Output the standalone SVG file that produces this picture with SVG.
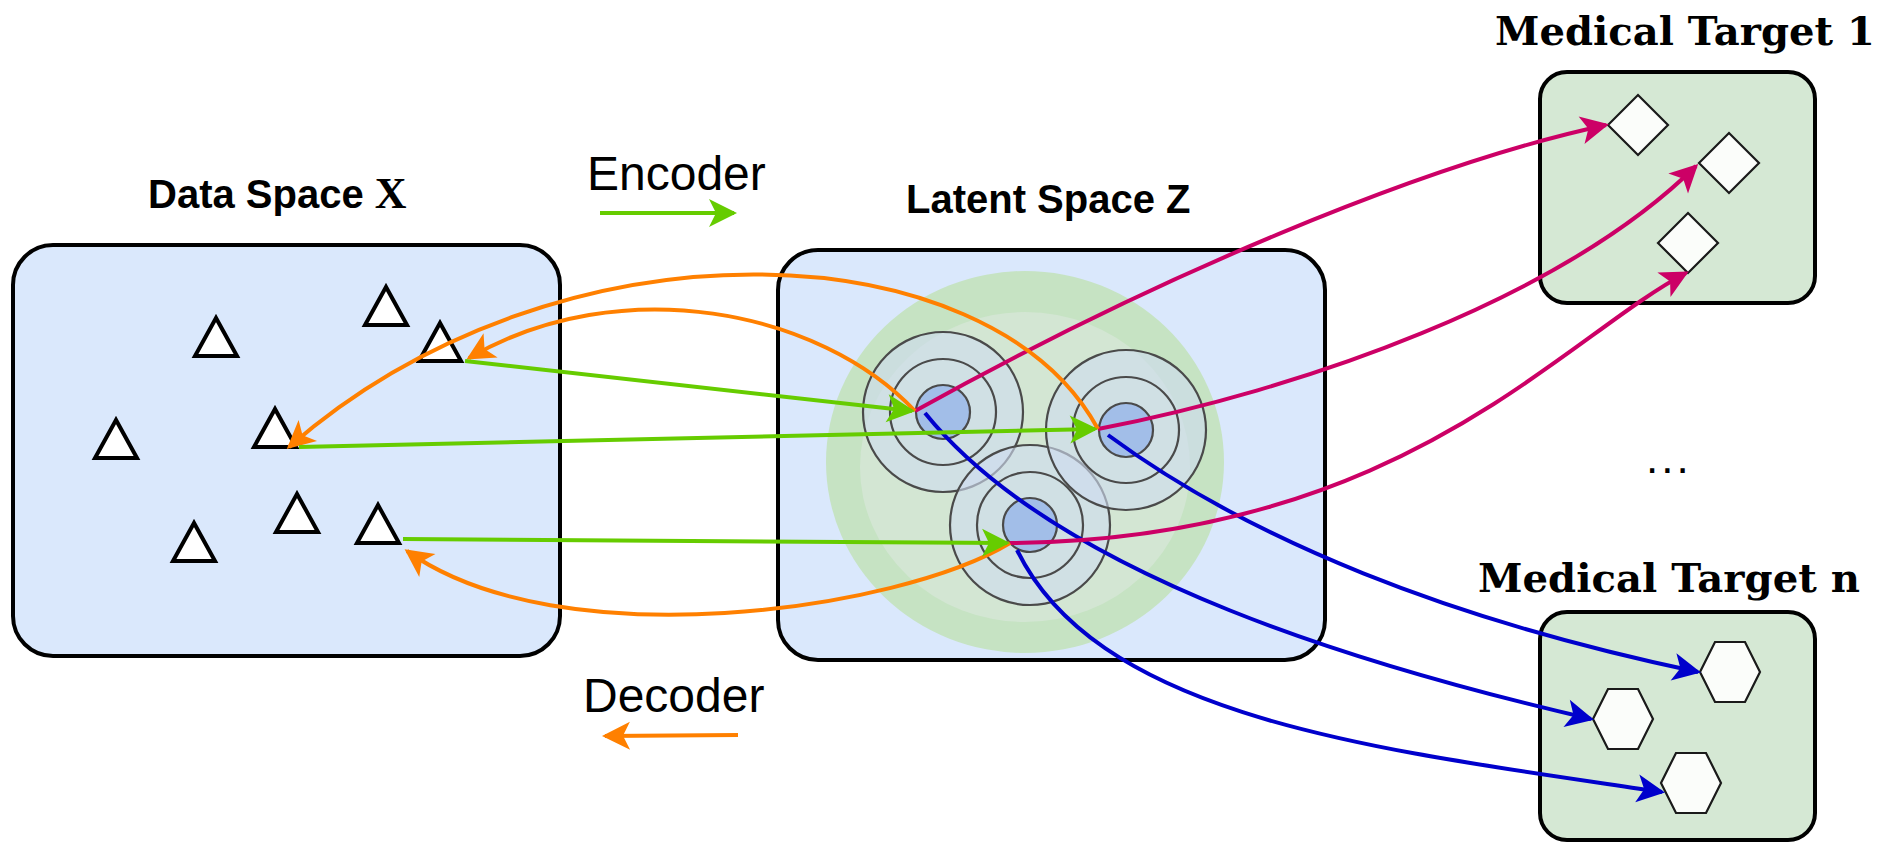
<svg xmlns="http://www.w3.org/2000/svg" width="1890" height="844" viewBox="0 0 1890 844">
<style>
.box{stroke:#000;stroke-width:4}
.blue{fill:#dae8fc}
.grn{fill:#d5e8d4}
.tri{fill:#fff;stroke:#000;stroke-width:4;stroke-linejoin:miter}
.shape{fill:#fbfdfa;stroke:#1a1a1a;stroke-width:2.2}
.title{font-family:"Liberation Sans",Arial,sans-serif;font-weight:bold;font-size:40px;fill:#000}
.serif{font-family:"DejaVu Serif",serif;font-weight:bold;font-size:39px;fill:#000}
.lbl{font-family:"Liberation Sans",Arial,sans-serif;font-size:48px;fill:#000}
.ring{fill:none;stroke:#4a4a4a;stroke-width:2.2}
.outer{fill:#cedbef;fill-opacity:0.62;stroke:#4a4a4a;stroke-width:2.2}
.core{fill:#a2bee8;stroke:#4a4a4a;stroke-width:2.2}
.c{fill:none;stroke-width:4}
.g{stroke:#66cc00;marker-end:url(#ah-g)}
.o{stroke:#ff8000;marker-end:url(#ah-o)}
.m{stroke:#cc0066;marker-end:url(#ah-m)}
.b{stroke:#0000cc;marker-end:url(#ah-b)}
</style>
<defs>
<marker id="ah-g" viewBox="-32 -16 38 32" markerWidth="38" markerHeight="32" refX="0" refY="0" orient="auto" markerUnits="userSpaceOnUse"><path d="M3,0 L-25,-14 L-18,0 L-25,14 Z" fill="#66cc00"/></marker>
<marker id="ah-o" viewBox="-32 -16 38 32" markerWidth="38" markerHeight="32" refX="0" refY="0" orient="auto" markerUnits="userSpaceOnUse"><path d="M3,0 L-25,-14 L-18,0 L-25,14 Z" fill="#ff8000"/></marker>
<marker id="ah-m" viewBox="-32 -16 38 32" markerWidth="38" markerHeight="32" refX="0" refY="0" orient="auto" markerUnits="userSpaceOnUse"><path d="M3,0 L-25,-14 L-18,0 L-25,14 Z" fill="#cc0066"/></marker>
<marker id="ah-b" viewBox="-32 -16 38 32" markerWidth="38" markerHeight="32" refX="0" refY="0" orient="auto" markerUnits="userSpaceOnUse"><path d="M3,0 L-25,-14 L-18,0 L-25,14 Z" fill="#0000cc"/></marker>
</defs>

<g id="data-space">
<text class="title" x="148" y="208">Data Space <tspan font-family="'Liberation Serif',serif" font-size="44">X</tspan></text>
<rect class="box blue" x="13" y="245" width="547" height="411" rx="40"/>
<polygon class="tri" points="386,287 365,325 407,325"/>
<polygon class="tri" points="216,318 195,356 237,356"/>
<polygon class="tri" points="440,323 419,361 461,361"/>
<polygon class="tri" points="116,420 95,458 137,458"/>
<polygon class="tri" points="275,409 254,447 296,447"/>
<polygon class="tri" points="297,494 276,532 318,532"/>
<polygon class="tri" points="194,523 173,561 215,561"/>
<polygon class="tri" points="378,505 357,543 399,543"/>
</g>

<g id="latent-space">
<text class="title" x="906" y="213" font-size="41">Latent Space Z</text>
<rect class="box blue" x="778" y="250" width="547" height="410" rx="40"/>
<ellipse cx="1025" cy="462" rx="199" ry="191" fill="#c6e3c3"/>
<ellipse cx="1025" cy="467" rx="165" ry="155" fill="#d3e6d3"/>
<g id="cluster-a">
<circle class="outer" cx="943" cy="412" r="80"/>
<circle class="ring" cx="943" cy="412" r="53"/>
<circle class="core" cx="943" cy="412" r="27"/>
</g>
<g id="cluster-c">
<circle class="outer" cx="1030" cy="525" r="80"/>
<circle class="ring" cx="1030" cy="525" r="53"/>
<circle class="core" cx="1030" cy="525" r="27"/>
</g>
<g id="cluster-b">
<circle class="outer" cx="1126" cy="430" r="80"/>
<circle class="ring" cx="1126" cy="430" r="53"/>
<circle class="core" cx="1126" cy="430" r="27"/>
</g>
</g>

<g id="medical-target-1">
<text class="serif" x="1495" y="45" textLength="380" lengthAdjust="spacingAndGlyphs">Medical Target 1</text>
<rect class="box grn" x="1540" y="72" width="275" height="231" rx="27"/>
<polygon class="shape" points="1608,125 1638,95 1668,125 1638,155"/>
<polygon class="shape" points="1699,163 1729,133 1759,163 1729,193"/>
<polygon class="shape" points="1658,243 1688,213 1718,243 1688,273"/>
</g>

<g id="ellipsis">
<text x="1646" y="473" font-family="'Liberation Sans',Arial,sans-serif" font-size="44" letter-spacing="3">...</text>
</g>

<g id="medical-target-n">
<text class="serif" x="1478" y="592" textLength="382" lengthAdjust="spacingAndGlyphs">Medical Target n</text>
<rect class="box grn" x="1540" y="612" width="275" height="228" rx="27"/>
<polygon class="shape" points="1700,672 1715,642 1745,642 1760,672 1745,702 1715,702"/>
<polygon class="shape" points="1593,719 1608,689 1638,689 1653,719 1638,749 1608,749"/>
<polygon class="shape" points="1661,783 1676,753 1706,753 1721,783 1706,813 1676,813"/>
</g>

<g id="legend-encoder">
<text class="lbl" x="587" y="190">Encoder</text>
<path class="c g" d="M600,213 L734,213"/>
</g>
<g id="legend-decoder">
<text class="lbl" x="583" y="712">Decoder</text>
<path class="c o" d="M738,735 L605,736"/>
</g>

<g id="connectors">
<path class="c b" d="M1108,435 C1250,540 1450,620 1698,672"/>
<path class="c b" d="M925,413 C1060,580 1380,670 1591,719"/>
<path class="c b" d="M1017,550 C1100,720 1380,750 1662,792"/>
<path class="c m" d="M915,411 C1150,280 1420,165 1606,125"/>
<path class="c m" d="M1098,429 C1300,390 1560,300 1696,166"/>
<path class="c m" d="M1010,543 C1400,540 1560,340 1686,273"/>
<path class="c o" d="M915,411 C820,310 620,270 469,358"/>
<path class="c o" d="M1098,429 C990,230 560,210 289,447"/>
<path class="c o" d="M1010,543 C900,610 560,660 407,551"/>
<path class="c g" d="M465,361 L912,411"/>
<path class="c g" d="M299,447 L1095,429"/>
<path class="c g" d="M403,539 L1007,543"/>
</g>
</svg>
